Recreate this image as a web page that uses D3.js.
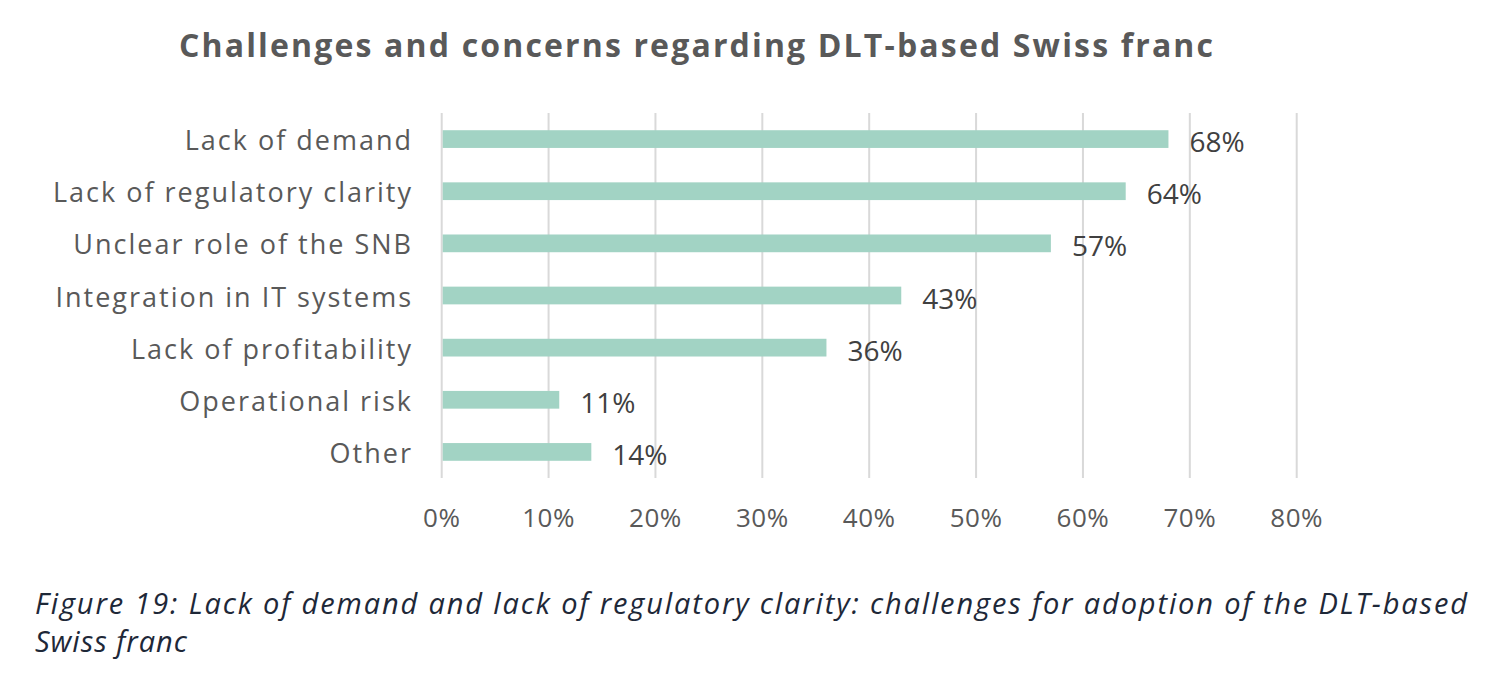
<!DOCTYPE html>
<html>
<head>
<meta charset="utf-8">
<script src="https://cdn.jsdelivr.net/npm/d3@7"></script>
<style>
  html, body { margin: 0; padding: 0; background: #ffffff; }
  svg { display: block; }
</style>
</head>
<body>
<svg id="chart" width="1500" height="682"></svg>
<script>
const categories = [
  "Lack of demand",
  "Lack of regulatory clarity",
  "Unclear role of the SNB",
  "Integration in IT systems",
  "Lack of profitability",
  "Operational risk",
  "Other"
];
const values = [68, 64, 57, 43, 36, 11, 14];
const xTicks = [0, 10, 20, 30, 40, 50, 60, 70, 80];
const titleText = "Challenges and concerns regarding DLT-based Swiss franc";
const captionLines = [
  "Figure 19: Lack of demand and lack of regulatory clarity: challenges for adoption of the DLT-based",
  "Swiss franc"
];

const svg = d3.select("#chart");
const font = "'Open Sans', 'Noto Sans', sans-serif";

const plot = { left: 441.7, right: 1296.7, top: 113, bottom: 478 };

const x = d3.scaleLinear().domain([0, 80]).range([plot.left, plot.right]);
const y = d3.scaleBand().domain(categories).range([plot.top, plot.bottom])
  .paddingInner(0.66).paddingOuter(0.33);

// Title
svg.append("text")
  .attr("x", 179).attr("y", 57)
  .attr("font-family", font).attr("font-weight", 700)
  .attr("font-size", 32).attr("fill", "#595959")
  .attr("textLength", 1034).attr("lengthAdjust", "spacing")
  .text(titleText);

// Gridlines
svg.append("g").selectAll("line").data(xTicks).join("line")
  .attr("x1", d => x(d)).attr("x2", d => x(d))
  .attr("y1", plot.top).attr("y2", plot.bottom)
  .attr("stroke", "#d9d9d9").attr("stroke-width", 2);

// Bars
svg.append("g").selectAll("rect").data(values).join("rect")
  .attr("x", x(0) + 1)
  .attr("y", (d, i) => y(categories[i]))
  .attr("width", d => x(d) - x(0) - 1)
  .attr("height", y.bandwidth())
  .attr("fill", "#a2d3c4");

// Category labels
svg.append("g").selectAll("text").data(categories).join("text")
  .attr("x", 413)
  .attr("y", d => y(d) + y.bandwidth() / 2 + 11)
  .attr("text-anchor", "end")
  .attr("font-family", font).attr("font-size", 27)
  .attr("letter-spacing", 2)
  .attr("fill", "#595959")
  .text(d => d);

// Data labels
svg.append("g").selectAll("text").data(values).join("text")
  .attr("x", d => x(d) + 21)
  .attr("y", (d, i) => y(categories[i]) + y.bandwidth() / 2 + 13)
  .attr("font-family", font).attr("font-size", 28)
  .attr("fill", "#404040")
  .text(d => d + "%");

// X tick labels
svg.append("g").selectAll("text").data(xTicks).join("text")
  .attr("x", d => x(d))
  .attr("y", 527)
  .attr("text-anchor", "middle")
  .attr("font-family", font).attr("font-size", 26)
  .attr("letter-spacing", 0.5)
  .attr("fill", "#595959")
  .text(d => d + "%");

// Caption
svg.append("text")
  .attr("x", 35).attr("y", 614)
  .attr("font-family", font).attr("font-style", "italic")
  .attr("font-size", 29).attr("fill", "#1e2838")
  .attr("textLength", 1432).attr("lengthAdjust", "spacing")
  .text(captionLines[0]);
svg.append("text")
  .attr("x", 35).attr("y", 652)
  .attr("font-family", font).attr("font-style", "italic")
  .attr("font-size", 29).attr("fill", "#1e2838")
  .attr("letter-spacing", 1)
  .text(captionLines[1]);
</script>
</body>
</html>
